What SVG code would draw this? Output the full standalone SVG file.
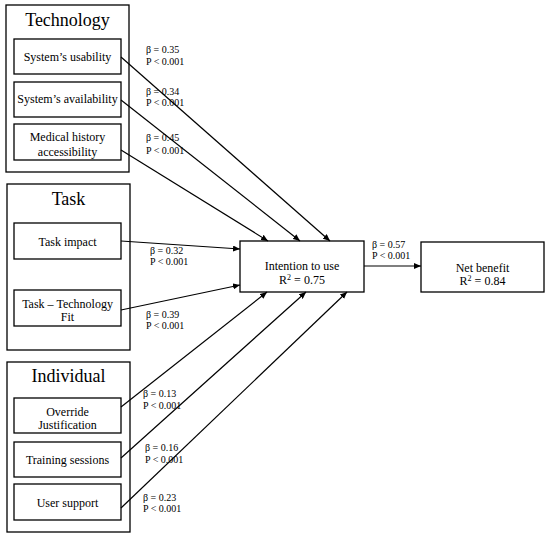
<svg xmlns="http://www.w3.org/2000/svg" width="550" height="535" viewBox="0 0 550 535">
<style>
rect{fill:#fff;stroke:#000;stroke-width:1.3}
text{font-family:"Liberation Serif","Times New Roman",serif;fill:#000}
.t{font-size:18px;text-anchor:middle}
.n{font-size:12px;text-anchor:middle}
.l{font-size:10px}
.c line{stroke:#000;stroke-width:1.2;marker-end:url(#a)}
</style>
<defs>
<marker id="a" markerUnits="userSpaceOnUse" markerWidth="7" markerHeight="6" refX="7" refY="3" orient="auto">
<path d="M0,0 L7,3 L0,6 z" fill="#000"/>
</marker>
</defs>
<rect width="550" height="535" style="stroke:none"/>
<g id="technology">
<rect x="6" y="5" width="123" height="167"/>
<text class="t" x="67.5" y="26">Technology</text>
</g>
<g id="usability"><rect x="14" y="39" width="107" height="35"/><text class="n" x="67.5" y="61">System’s usability</text></g>
<g id="availability"><rect x="14" y="82" width="107" height="35"/><text class="n" x="67.5" y="103">System’s availability</text></g>
<g id="medical"><rect x="14" y="124" width="107" height="36"/><text class="n" x="67.5" y="141">Medical history</text><text class="n" x="67.5" y="156">accessibility</text></g>
<g id="task">
<rect x="7" y="184" width="123" height="166"/>
<text class="t" x="68.5" y="205">Task</text>
</g>
<g id="taskimpact"><rect x="14" y="223" width="107" height="36"/><text class="n" x="67.5" y="246">Task impact</text></g>
<g id="ttf"><rect x="14" y="290" width="107" height="36"/><text class="n" x="67.5" y="307.5">Task – Technology</text><text class="n" x="67.5" y="321">Fit</text></g>
<g id="individual">
<rect x="7" y="362" width="123" height="170"/>
<text class="t" x="68.5" y="382">Individual</text>
</g>
<g id="override"><rect x="14" y="398" width="107" height="35"/><text class="n" x="67.5" y="415.5">Override</text><text class="n" x="67.5" y="429">Justification</text></g>
<g id="training"><rect x="14" y="442" width="107" height="35"/><text class="n" x="67.5" y="464">Training sessions</text></g>
<g id="support"><rect x="14" y="484" width="107" height="36"/><text class="n" x="67.5" y="507">User support</text></g>
<g id="intention"><rect x="240" y="241" width="124" height="51"/><text class="n" x="302" y="270">Intention to use</text><text class="n" x="302" y="284">R<tspan font-size="8" dy="-4">2</tspan><tspan dy="4"> = 0.75</tspan></text></g>
<g id="netbenefit"><rect x="421" y="242" width="123" height="50"/><text class="n" x="482.5" y="272">Net benefit</text><text class="n" x="482.5" y="285">R<tspan font-size="8" dy="-4">2</tspan><tspan dy="4"> = 0.84</tspan></text></g>
<g id="connectors" class="c">
<line x1="121" y1="57" x2="330" y2="241"/>
<line x1="121" y1="100" x2="300" y2="241"/>
<line x1="121" y1="150" x2="268" y2="241"/>
<line x1="121" y1="241" x2="240" y2="249"/>
<line x1="121" y1="310" x2="240" y2="285"/>
<line x1="121" y1="407" x2="267" y2="292"/>
<line x1="121" y1="458" x2="306" y2="292"/>
<line x1="121" y1="508" x2="347" y2="292"/>
<line x1="364" y1="266" x2="421" y2="266"/>
</g>
<g id="labels" class="l">
<text x="146" y="53">β = 0.35</text><text x="146" y="65">P  &lt; 0.001</text>
<text x="146" y="95">β = 0.34</text><text x="146" y="106">P  &lt; 0.001</text>
<text x="146" y="141">β = 0.45</text><text x="146" y="154">P  &lt; 0.001</text>
<text x="150" y="254">β = 0.32</text><text x="150" y="265">P  &lt; 0.001</text>
<text x="146" y="318">β = 0.39</text><text x="146" y="329">P  &lt; 0.001</text>
<text x="143" y="397">β = 0.13</text><text x="143" y="409">P  &lt; 0.001</text>
<text x="145" y="451">β = 0.16</text><text x="145" y="463">P  &lt; 0.001</text>
<text x="143" y="501">β = 0.23</text><text x="143" y="512">P  &lt; 0.001</text>
<text x="372" y="248">β = 0.57</text><text x="372" y="259">P  &lt; 0.001</text>
</g>
</svg>
